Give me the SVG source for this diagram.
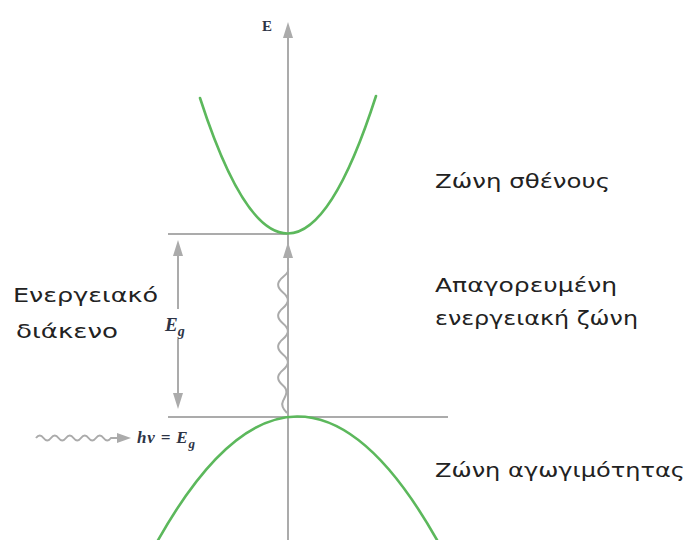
<svg xmlns="http://www.w3.org/2000/svg" width="688" height="540" viewBox="0 0 688 540">
<style>
.ax{stroke:#ababab;stroke-width:2;fill:none}
.band{stroke:#5cb85c;stroke-width:2.6;fill:none;stroke-linecap:round}
.lbl{font-family:"DejaVu Sans","Noto Sans",sans-serif;font-size:19px;fill:#222}
.math{font-family:"Liberation Serif","DejaVu Serif",serif;font-style:italic;font-weight:bold;fill:#2d3446}
.up{font-family:"Liberation Serif","DejaVu Serif",serif;font-weight:bold;fill:#2d3446}
.ah{fill:#ababab}
</style>
<rect width="688" height="540" fill="#fff"/>
<g id="axis">
<line class="ax" x1="288" y1="36" x2="288" y2="540"/>
<polygon class="ah" points="288,22 283,38 293,38"/>
<text class="up" x="262" y="31" font-size="15">E</text>
</g>
<g id="levels">
<line class="ax" x1="168" y1="234" x2="288" y2="234"/>
<line class="ax" x1="168" y1="417" x2="448" y2="417"/>
</g>
<g id="conduction-band">
<path class="band" d="M200,98 Q288,370 376,96"/>
</g>
<g id="valence-band">
<path class="band" d="M157,542 Q297,292 437,540"/>
</g>
<g id="connectors">
<g id="gap-arrow">
<line class="ax" x1="178" y1="252" x2="178" y2="309"/>
<line class="ax" x1="178" y1="339" x2="178" y2="396"/>
<polygon class="ah" points="178,240 173,256 183,256"/>
<polygon class="ah" points="178,409 173,393 183,393"/>
</g>
<g id="photon-vertical">
<path class="ax" d="M287,413 c-3,-3 -6,-8 -4,-12 s6.5,-10 0,-15.5 s-6.5,-10 0,-15.5 s6.5,-10 0,-15.5 s-6.5,-10 0,-15.5 s6.5,-10 0,-15.5 s-6.5,-10 0,-15.5 s6.5,-10 0,-15.5 s-6.5,-10 0,-15.5 s5,-6 5,-10 L288,254"/>
<polygon class="ah" points="288,242 283,258 293,258"/>
</g>
<g id="photon-incoming">
<path class="ax" d="M36,438 q3.75,-5 7.5,0 t7.5,0 t7.5,0 t7.5,0 t7.5,0 t7.5,0 t7.5,0 t7.5,0 t7.5,0 t7.5,0 L119,438"/>
<polygon class="ah" points="131,438 117,433 117,443"/>
</g>
</g>
<g id="eg-label">
<text class="math" x="165" y="331" font-size="19">E<tspan font-size="14" dy="5">g</tspan></text>
</g>
<g id="hv-label">
<text class="math" x="137" y="443" font-size="17" textLength="58">hν = E<tspan font-size="13" dy="5">g</tspan></text>
</g>
<g id="labels">
<text class="lbl" x="435" y="188" textLength="175" lengthAdjust="spacingAndGlyphs">Ζώνη σθένους</text>
<text class="lbl" x="435" y="292" textLength="182" lengthAdjust="spacingAndGlyphs">Απαγορευμένη</text>
<text class="lbl" x="435" y="325" textLength="203" lengthAdjust="spacingAndGlyphs">ενεργειακή ζώνη</text>
<text class="lbl" x="435" y="477" textLength="250" lengthAdjust="spacingAndGlyphs">Ζώνη αγωγιμότητας</text>
<text class="lbl" x="13" y="302" textLength="145" lengthAdjust="spacingAndGlyphs">Ενεργειακό</text>
<text class="lbl" x="16" y="338" textLength="102" lengthAdjust="spacingAndGlyphs">διάκενο</text>
</g>
</svg>
